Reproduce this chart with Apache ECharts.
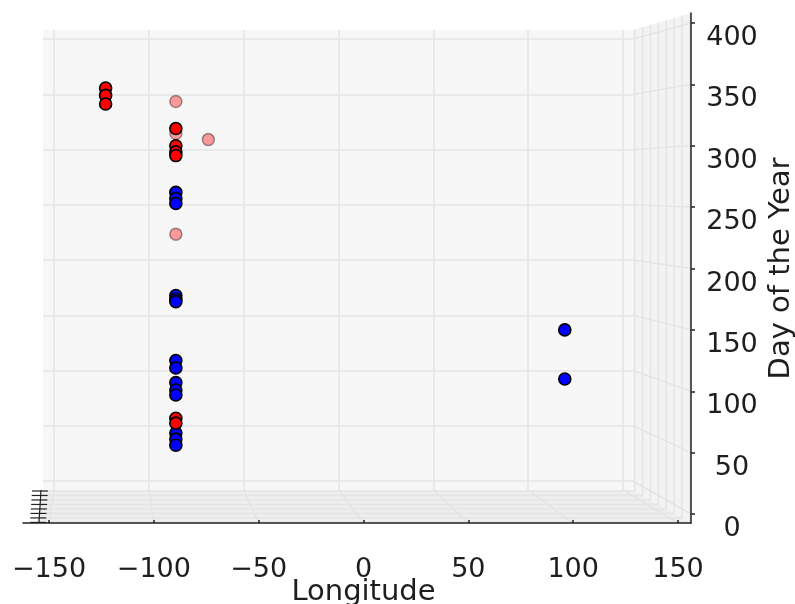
<!DOCTYPE html>
<html><head><meta charset="utf-8">
<script src="https://cdn.jsdelivr.net/npm/echarts@6/dist/echarts.min.js"></script>
<style>html,body{margin:0;padding:0;background:#fff}#c{width:795px;height:604px}</style>
</head><body><div id="c"></div>
<script>
// ---- data ----
const lonTicks = [-150, -100, -50, 0, 50, 100, 150];
const dayTicks = [0, 50, 100, 150, 200, 250, 300, 350, 400];
const latDepths = [0.03, 0.166, 0.302, 0.438, 0.574, 0.71, 0.846, 0.982];

const redLon = [-123, -123, -123, -89.5, -89.5, -89.5, -89.5, -89.5, -89.5];
const redDay = [347, 341, 334, 314, 300, 295, 292, 78, 74];
const fadedLon = [-89.5, -89.5, -74, -89.5];
const fadedDay = [336, 310, 305, 228];
const blueLon = [-89.5, -89.5, -89.5, -89.5, -89.5, -89.5, -89.5, -89.5, -89.5, -89.5, -89.5, -89.5, -89.5, -89.5, 96, 96];
const blueDay = [262, 257, 253, 178, 175, 173, 125, 119, 107, 101, 97, 66, 61, 56, 150, 110];

const pairs = (xs, ys) => xs.map((x, i) => [x, ys[i]]);

const chart = echarts.init(document.getElementById('c'), null, {renderer: 'canvas'});
const FONT = 'DejaVu Sans';
const TXT = '#1e1e1e';
const GRID = '#e4e4e4';
const AX = '#222';
const hide = {show: false};
const minus = v => String(v).replace('-', '\u2212');
const G = o => Object.assign({outerBoundsMode: 'none', containLabel: false}, o);

const option = {
  animation: false,
  backgroundColor: '#fff',
  grid: [
    G({left: 43, top: 30, width: 590, height: 460, show: true, backgroundColor: '#f7f7f7', borderWidth: 0}),
    G({left: 43, top: 39, width: 590, height: 442}),
    G({left: 54, top: 30, width: 569, height: 460}),
    G({left: 49, top: 23, width: 629, height: 491}),
    G({left: 23, top: 13, width: 668, height: 510})
  ],
  xAxis: [
    {gridIndex: 0, type: 'value', show: false, min: 0, max: 1},
    {gridIndex: 1, type: 'value', show: false, min: 0, max: 1},
    {gridIndex: 2, type: 'value', min: -150, max: 150, interval: 50,
     axisLine: hide, axisTick: hide, axisLabel: hide,
     splitLine: {show: true, lineStyle: {color: GRID, width: 1.5}}},
    {gridIndex: 3, type: 'value', min: -150, max: 150, interval: 50, position: 'bottom', offset: 9, z: 5,
     axisLine: {show: false, onZero: false},
     axisTick: {show: true, inside: true, length: 3, lineStyle: {color: AX, width: 1.5}},
     axisLabel: {show: true, margin: 33, color: TXT, fontFamily: FONT, fontSize: 27, formatter: minus},
     splitLine: hide,
     name: 'Longitude', nameLocation: 'middle', nameGap: 55, nameMoveOverlap: false,
     nameTextStyle: {color: TXT, fontFamily: FONT, fontSize: 29}},
    {gridIndex: 4, type: 'value', min: 0, max: 1, position: 'bottom', z: 5,
     axisLine: {show: true, onZero: false, lineStyle: {color: AX, width: 1.5}},
     axisTick: hide, axisLabel: hide, splitLine: hide}
  ],
  yAxis: [
    {gridIndex: 0, type: 'value', show: false, min: 0, max: 1},
    {gridIndex: 1, type: 'value', min: 0, max: 400, interval: 50,
     axisLine: hide, axisTick: hide, axisLabel: hide,
     splitLine: {show: true, lineStyle: {color: GRID, width: 1.5}}},
    {gridIndex: 2, type: 'value', show: false, min: 0, max: 1},
    {gridIndex: 3, type: 'value', min: 0, max: 400, interval: 50, position: 'right', offset: 13, z: 5,
     axisLine: {show: false, onZero: false},
     axisTick: {show: true, length: 4, lineStyle: {color: AX, width: 1.5}},
     axisLabel: {show: true, margin: 41, align: 'center', verticalAlign: 'top', lineHeight: 30,
                 color: TXT, fontFamily: FONT, fontSize: 27},
     splitLine: hide,
     name: 'Day of the Year', nameLocation: 'middle', nameGap: 76, nameRotate: 90, nameMoveOverlap: false,
     nameTextStyle: {color: TXT, fontFamily: FONT, fontSize: 29}},
    {gridIndex: 4, type: 'value', min: 0, max: 1, position: 'right', z: 5,
     axisLine: {show: true, onZero: false, lineStyle: {color: AX, width: 1.5}},
     axisTick: hide, axisLabel: hide, splitLine: hide}
  ],
  series: [
    {type: 'scatter', xAxisIndex: 3, yAxisIndex: 3, data: pairs(fadedLon, fadedDay),
     symbol: 'circle', symbolSize: 12, z: 2,
     itemStyle: {color: '#ff0000', borderColor: '#000', borderWidth: 1.5, opacity: 0.38}},
    {type: 'scatter', xAxisIndex: 3, yAxisIndex: 3, data: pairs(blueLon, blueDay),
     symbol: 'circle', symbolSize: 12, z: 3,
     itemStyle: {color: '#0000ff', borderColor: '#000', borderWidth: 1.6, opacity: 1}},
    {type: 'scatter', xAxisIndex: 3, yAxisIndex: 3, data: pairs(redLon, redDay),
     symbol: 'circle', symbolSize: 12, z: 4,
     itemStyle: {color: '#ff0000', borderColor: '#000', borderWidth: 1.6, opacity: 1}}
  ]
};
chart.setOption(option);

// ---- 3D pane decoration (floor + side pane) built from the axes' own scales ----
const xb = v => chart.convertToPixel({xAxisIndex: 2}, v);
const xf = v => chart.convertToPixel({xAxisIndex: 3}, v);
const yb = d => chart.convertToPixel({yAxisIndex: 1}, d);
const yf = d => chart.convertToPixel({yAxisIndex: 3}, d);
const bL = 43, bR = 633, bT = 30, bB = 490;
const fL = 37, fR = 691, fT = 13, fB = 523;
const lerp = (a, b, t) => a + (b - a) * t;
const els = [];
els.push({type: 'polygon', z: 1, silent: true, shape: {points: [[bL, bB], [bR, bB], [fR, fB], [fL, fB]]}, style: {fill: '#eeeeee'}});
els.push({type: 'polygon', z: 1, silent: true, shape: {points: [[bR, bT], [fR, fT], [fR, fB], [bR, bB]]}, style: {fill: '#f3f3f3'}});
const ln = (x1, y1, x2, y2, c, w) => ({type: 'line', z: 2, silent: true,
  shape: {x1, y1, x2, y2}, style: {stroke: c || GRID, lineWidth: w || 1.5}});
lonTicks.forEach(v => els.push(ln(xb(v), bB, xf(v), fB)));
latDepths.forEach(t => {
  const y = lerp(bB, fB, t);
  els.push(ln(lerp(bL, fL, t), y, lerp(bR, fR, t), y));
  const x = lerp(bR, fR, t);
  els.push(ln(x, lerp(bT, fT, t), x, y));
});
dayTicks.forEach(d => els.push(ln(bR, yb(d), fR, yf(d))));
// latitude axis seen edge-on
els.push(ln(41, bB, 39, fB, AX, 1.2));
latDepths.forEach(t => {
  const y = lerp(bB, fB, t);
  const x = lerp(41, 39, t);
  els.push(ln(x - 9, y, x + 7, y, AX, 1.2));
});
chart.setOption({graphic: {elements: els}});
</script>
</body></html>
